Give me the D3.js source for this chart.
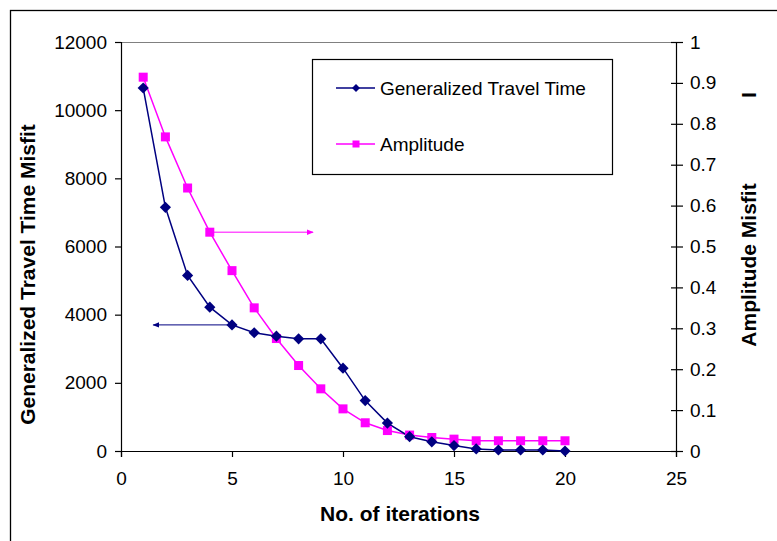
<!DOCTYPE html>
<html lang="en">
<head>
<meta charset="UTF-8">
<title>Misfit vs iterations</title>
<script src="https://cdn.jsdelivr.net/npm/d3@7"></script>
<style>
    body { margin: 0; background: #fff; }
    svg text { font-family: "Liberation Sans", Arial, sans-serif; fill: #000; }
</style>
</head>
<body>
<div id="chart"></div>
<script>
    // values
    const iterations = [1, 2, 3, 4, 5, 6, 7, 8, 9, 10, 11, 12, 13, 14, 15, 16, 17, 18, 19, 20];
    const travelTime = [10650, 7150, 5150, 4220, 3700, 3470, 3370, 3290, 3290, 2430,
                        1480, 820, 420, 270, 160, 60, 30, 30, 30, 0];
    const amplitude = [0.914, 0.768, 0.643, 0.535, 0.441, 0.350, 0.275, 0.209, 0.152, 0.103,
                       0.069, 0.050, 0.039, 0.033, 0.029, 0.025, 0.025, 0.025, 0.025, 0.025];
    const xTicks = [0, 5, 10, 15, 20, 25];
    const leftTicks = [0, 2000, 4000, 6000, 8000, 10000, 12000];
    const rightTicks = [0, 0.1, 0.2, 0.3, 0.4, 0.5, 0.6, 0.7, 0.8, 0.9, 1];
    const seriesNames = ["Generalized Travel Time", "Amplitude"];

    const W = 777, H = 541;
    const plot = {left: 121, right: 676, top: 42, bottom: 451};
    const navy = "#000080", magenta = "#ff00ff";

    const svg = d3.select("#chart").append("svg")
        .attr("width", W).attr("height", H);

    // outer frame, runs off the right and bottom edges
    svg.append("rect")
        .attr("x", 10.5).attr("y", 10.5)
        .attr("width", 900).attr("height", 700)
        .attr("fill", "none").attr("stroke", "#000").attr("stroke-width", 1.3);

    const x = d3.scaleLinear().domain([0, 25]).range([plot.left, plot.right]);
    const yL = d3.scaleLinear().domain([0, 12000]).range([plot.bottom, plot.top]);
    const yR = d3.scaleLinear().domain([0, 1]).range([plot.bottom, plot.top]);

    // top border of the plot area
    svg.append("line")
        .attr("x1", plot.left).attr("x2", plot.right)
        .attr("y1", plot.top + 0.5).attr("y2", plot.top + 0.5)
        .attr("stroke", "#808080").attr("stroke-width", 1.2);

    const styleAxis = g => {
        g.selectAll("path").attr("stroke", "#000").attr("stroke-width", 1.2);
        g.selectAll("line").attr("stroke", "#000").attr("stroke-width", 1.2);
        g.selectAll("text").attr("font-size", 19).attr("fill", "#000")
            .attr("font-family", "'Liberation Sans', Arial, sans-serif");
    };

    svg.append("g")
        .attr("transform", `translate(0,${plot.bottom})`)
        .call(d3.axisBottom(x).tickValues(xTicks).tickSizeOuter(0).tickSize(6).tickPadding(15))
        .call(styleAxis);

    svg.append("g")
        .attr("transform", `translate(${plot.left},0)`)
        .call(d3.axisLeft(yL).tickValues(leftTicks).tickFormat(d3.format("d"))
            .tickSizeOuter(0).tickSize(6).tickPadding(8))
        .call(styleAxis);

    const rightAxis = svg.append("g")
        .attr("transform", `translate(${plot.right},0)`)
        .call(d3.axisRight(yR).tickValues(rightTicks).tickFormat(d3.format("~g"))
            .tickSizeOuter(0).tickSize(7).tickPadding(7))
        .call(styleAxis);
    rightAxis.selectAll(".tick line").attr("x1", -5);

    // series
    const travelPts = iterations.map((it, i) => ({x: it, y: travelTime[i]}));
    const ampPts = iterations.map((it, i) => ({x: it, y: amplitude[i]}));

    svg.append("path")
        .datum(ampPts)
        .attr("fill", "none").attr("stroke", magenta).attr("stroke-width", 1.5)
        .attr("d", d3.line().x(d => x(d.x)).y(d => yR(d.y)));

    svg.append("path")
        .datum(travelPts)
        .attr("fill", "none").attr("stroke", navy).attr("stroke-width", 1.5)
        .attr("d", d3.line().x(d => x(d.x)).y(d => yL(d.y)));

    svg.selectAll("rect.amp")
        .data(ampPts)
        .join("rect")
        .classed("amp", true)
        .attr("x", d => x(d.x) - 4.5).attr("y", d => yR(d.y) - 4.5)
        .attr("width", 9).attr("height", 9)
        .attr("fill", magenta);

    const diamond = d3.symbol().type(d3.symbolDiamond2).size(80);
    svg.selectAll("path.gtt")
        .data(travelPts)
        .join("path")
        .classed("gtt", true)
        .attr("transform", d => `translate(${x(d.x)},${yL(d.y)})`)
        .attr("d", diamond)
        .attr("fill", navy);

    // arrows pointing each curve to its axis
    const defs = svg.append("defs");
    [["arrowPink", magenta], ["arrowNavy", navy]].forEach(([id, c]) => {
        defs.append("marker")
            .attr("id", id).attr("viewBox", "0 0 10 10")
            .attr("refX", 9).attr("refY", 5)
            .attr("markerWidth", 7).attr("markerHeight", 7)
            .attr("markerUnits", "userSpaceOnUse")
            .attr("orient", "auto")
            .append("path").attr("d", "M0,1 L10,5 L0,9 Z").attr("fill", c);
    });
    svg.append("line")
        .attr("x1", x(4)).attr("x2", x(8.65))
        .attr("y1", yR(amplitude[3])).attr("y2", yR(amplitude[3]))
        .attr("stroke", magenta).attr("stroke-width", 1)
        .attr("marker-end", "url(#arrowPink)");
    svg.append("line")
        .attr("x1", x(5)).attr("x2", x(1.45))
        .attr("y1", yL(travelTime[4])).attr("y2", yL(travelTime[4]))
        .attr("stroke", navy).attr("stroke-width", 1)
        .attr("marker-end", "url(#arrowNavy)");

    // legend
    const legend = svg.append("g").attr("transform", "translate(312,59)");
    legend.append("rect")
        .attr("x", 0.5).attr("y", 0.5).attr("width", 300).attr("height", 115)
        .attr("fill", "#fff").attr("stroke", "#000").attr("stroke-width", 1.2);
    const rows = [
        {name: seriesNames[0], color: navy, y: 29},
        {name: seriesNames[1], color: magenta, y: 85}
    ];
    rows.forEach((r, i) => {
        legend.append("line")
            .attr("x1", 24).attr("x2", 63).attr("y1", r.y).attr("y2", r.y)
            .attr("stroke", r.color).attr("stroke-width", 1.5);
        if (i === 0) {
            legend.append("path")
                .attr("transform", `translate(44,${r.y})`)
                .attr("d", d3.symbol().type(d3.symbolDiamond2).size(40))
                .attr("fill", r.color);
        } else {
            legend.append("rect")
                .attr("x", 40.5).attr("y", r.y - 3.5).attr("width", 7).attr("height", 7)
                .attr("fill", r.color);
        }
        legend.append("text")
            .attr("x", 68).attr("y", r.y).attr("dy", "0.36em")
            .attr("font-size", 19)
            .text(r.name);
    });

    // axis titles
    svg.append("text")
        .attr("transform", `translate(35,${(plot.top + plot.bottom) / 2 + 28}) rotate(-90)`)
        .attr("text-anchor", "middle")
        .attr("font-size", 21).attr("font-weight", "bold")
        .text("Generalized Travel Time Misfit");

    svg.append("text")
        .attr("transform", `translate(756,265) rotate(-90)`)
        .attr("text-anchor", "middle")
        .attr("font-size", 21).attr("font-weight", "bold")
        .text("Amplitude Misfit");

    svg.append("text")
        .attr("transform", `translate(756,95) rotate(-90)`)
        .attr("text-anchor", "middle")
        .attr("font-size", 21).attr("font-weight", "bold")
        .text("I");

    svg.append("text")
        .attr("x", 400).attr("y", 521)
        .attr("text-anchor", "middle")
        .attr("font-size", 21).attr("font-weight", "bold")
        .text("No. of iterations");
</script>
</body>
</html>
